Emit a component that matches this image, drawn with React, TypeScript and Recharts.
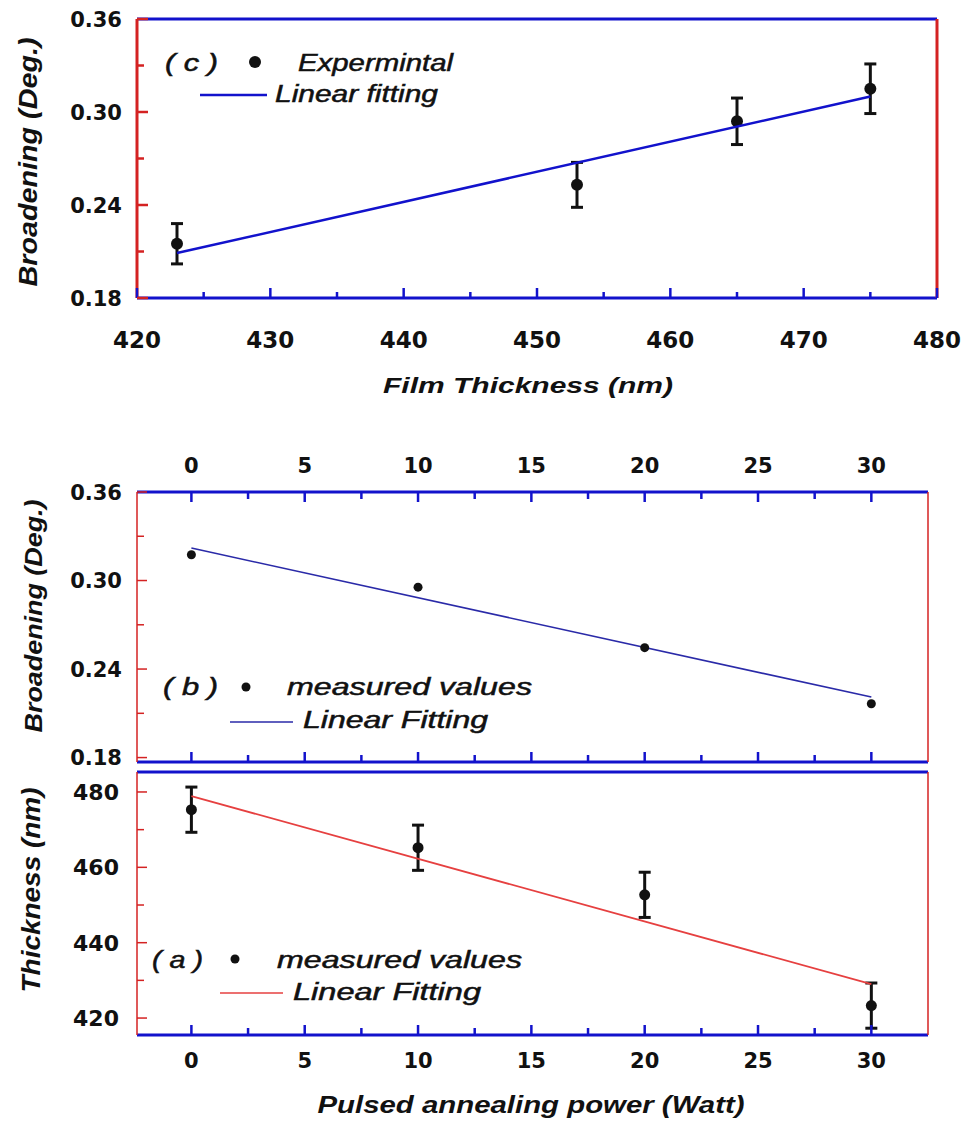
import React from 'react';
import { ScatterChart, Scatter, XAxis, YAxis, ErrorBar, Legend } from 'recharts';

const BLUE = '#1212cc';
const BLUE_B = '#2a2aa8';
const RED = '#d42222';
const RED_FIT = '#e64040';
const INK = '#111111';

// (c) broadening vs film thickness
const filmThickness = [423, 453, 465, 475];
const broadeningVsThickness = [0.215, 0.253, 0.294, 0.315];
const broadeningErr = [0.013, 0.0145, 0.015, 0.016];
const fitThicknessX = [423, 475];
const fitBroadeningC = [0.209, 0.31];

// (a), (b) vs pulsed annealing power
const power = [0, 10, 20, 30];
const broadeningVsPower = [0.3175, 0.2955, 0.2545, 0.2165];
const fitPowerX = [0, 30];
const fitBroadeningB = [0.322, 0.221];
const thicknessVsPower = [475.3, 465.2, 452.7, 423.3];
const thicknessErr = [6, 6, 6, 6];
const fitThicknessA = [478.9, 429.0];

// ticks
const ticksFilm = [420, 425, 430, 435, 440, 445, 450, 455, 460, 465, 470, 475, 480];
const majorFilm = [420, 430, 440, 450, 460, 470, 480];
const ticksBroad = [0.18, 0.21, 0.24, 0.27, 0.3, 0.33, 0.36];
const majorBroad = [0.18, 0.24, 0.3, 0.36];
const ticksPower = [0, 2.5, 5, 7.5, 10, 12.5, 15, 17.5, 20, 22.5, 25, 27.5, 30];
const majorPower = [0, 5, 10, 15, 20, 25, 30];
const ticksThick = [420, 430, 440, 450, 460, 470, 480];
const majorThick = [420, 440, 460, 480];

const pointsC = filmThickness.map((x, i) => ({ x, y: broadeningVsThickness[i], err: broadeningErr[i] }));
const fitC = fitThicknessX.map((x, i) => ({ x, y: fitBroadeningC[i] }));
const pointsB = power.map((x, i) => ({ x, y: broadeningVsPower[i] }));
const fitB = fitPowerX.map((x, i) => ({ x, y: fitBroadeningB[i] }));
const pointsA = power.map((x, i) => ({ x, y: thicknessVsPower[i], err: thicknessErr[i] }));
const fitA = fitPowerX.map((x, i) => ({ x, y: fitThicknessA[i] }));

const isIn = (v: number, list: number[]) => list.some((m) => Math.abs(m - v) < 1e-9);

interface TickSpec {
  side: 'left' | 'bottom' | 'top';
  color: string;
  majors: number[];
  majorLen: number;
  minorLen: number;
  fontSize: number;
  gap: number;
  digits: number;
  labels: boolean;
  strokeWidth: number;
}

// ticks drawn inward, label only on majors
function inwardTick(s: TickSpec) {
  return (props: any) => {
    const { x, y, payload } = props;
    const v = Number(payload.value);
    const major = isIn(v, s.majors);
    const len = major ? s.majorLen : s.minorLen;
    const label = s.labels && major ? v.toFixed(s.digits) : null;
    const font = { fontFamily: 'DejaVu Sans', fontWeight: 700, fontSize: s.fontSize, fill: INK };
    if (s.side === 'left') {
      return (
        <g>
          <line x1={x} y1={y} x2={x + len} y2={y} stroke={s.color} strokeWidth={s.strokeWidth} />
          {label && (
            <text x={x - s.gap} y={y} dy="0.36em" textAnchor="end" {...font}>
              {label}
            </text>
          )}
        </g>
      );
    }
    const dir = s.side === 'bottom' ? -1 : 1;
    return (
      <g>
        <line x1={x} y1={y} x2={x} y2={y + dir * len} stroke={s.color} strokeWidth={s.strokeWidth} />
        {label && (
          <text x={x} y={y - dir * s.gap} textAnchor="middle" {...font}>
            {label}
          </text>
        )}
      </g>
    );
  };
}

const titleFont = { fontFamily: 'Liberation Sans, Arial, sans-serif', fontWeight: 700, fontStyle: 'italic' as const, fill: INK };
const legendFont = {
  fontFamily: 'Liberation Sans, Arial, sans-serif',
  fontStyle: 'italic' as const,
  fontSize: 23,
  fill: INK,
  stroke: INK,
  strokeWidth: 0.5,
};

function xTitle(text: string, cx: number, base: number, len: number, size: number) {
  return () => (
    <text x={cx} y={base} textAnchor="middle" fontSize={size} textLength={len} lengthAdjust="spacingAndGlyphs" {...titleFont}>
      {text}
    </text>
  );
}

function yTitle(text: string, bx: number, cy: number, len: number, size: number) {
  return () => (
    <text
      x={bx}
      y={cy}
      transform={`rotate(-90 ${bx} ${cy})`}
      textAnchor="middle"
      fontSize={size}
      textLength={len}
      lengthAdjust="spacingAndGlyphs"
      {...titleFont}
    >
      {text}
    </text>
  );
}

const dot = (r: number) => (props: any) => <circle cx={props.cx} cy={props.cy} r={r} fill={INK} />;
const noDot = () => <g />;

interface LegendSpec {
  w: number;
  h: number;
  tag: string;
  tagX: number;
  tagLen: number;
  row1: number;
  dotX: number;
  dotY: number;
  dotR: number;
  name1: string;
  name1X: number;
  name1Len: number;
  lineX1: number;
  lineX2: number;
  lineY: number;
  lineColor: string;
  lineW: number;
  row2: number;
  name2: string;
  name2X: number;
  name2Len: number;
}

function legendBox(l: LegendSpec) {
  return () => (
    <svg width={l.w} height={l.h} style={{ overflow: 'visible' }}>
      <text x={l.tagX} y={l.row1} textLength={l.tagLen} lengthAdjust="spacingAndGlyphs" {...legendFont}>
        {l.tag}
      </text>
      <circle cx={l.dotX} cy={l.dotY} r={l.dotR} fill={INK} />
      <text x={l.name1X} y={l.row1} textLength={l.name1Len} lengthAdjust="spacingAndGlyphs" {...legendFont}>
        {l.name1}
      </text>
      <line x1={l.lineX1} x2={l.lineX2} y1={l.lineY} y2={l.lineY} stroke={l.lineColor} strokeWidth={l.lineW} />
      <text x={l.name2X} y={l.row2} textLength={l.name2Len} lengthAdjust="spacingAndGlyphs" {...legendFont}>
        {l.name2}
      </text>
    </svg>
  );
}

function PanelC() {
  return (
    <ScatterChart width={963} height={420} margin={{ top: 18, right: 25, bottom: 0, left: 0 }}>
      <XAxis
        xAxisId="b"
        type="number"
        dataKey="x"
        domain={[420, 480]}
        allowDataOverflow
        ticks={ticksFilm}
        interval={0}
        height={122}
        tickSize={0}
        tickMargin={0}
        tickLine={false}
        axisLine={{ stroke: BLUE, strokeWidth: 3 }}
        tick={inwardTick({ side: 'bottom', color: BLUE, majors: majorFilm, majorLen: 10, minorLen: 6, fontSize: 23, gap: 50, digits: 0, labels: true, strokeWidth: 2.5 })}
        label={{ content: xTitle('Film Thickness (nm)', 528, 393, 290, 22) }}
      />
      <XAxis xAxisId="t" orientation="top" type="number" domain={[420, 480]} height={1} tick={false} tickLine={false} axisLine={{ stroke: BLUE, strokeWidth: 3 }} />
      <YAxis
        yAxisId="l"
        type="number"
        dataKey="y"
        domain={[0.18, 0.36]}
        allowDataOverflow
        ticks={ticksBroad}
        interval={0}
        width={137}
        tickSize={0}
        tickMargin={0}
        tickLine={false}
        axisLine={{ stroke: RED, strokeWidth: 3 }}
        tick={inwardTick({ side: 'left', color: RED, majors: majorBroad, majorLen: 11, minorLen: 7, fontSize: 21, gap: 15, digits: 2, labels: true, strokeWidth: 2.5 })}
        label={{ content: yTitle('Broadening (Deg.)', 37, 162, 249, 26) }}
      />
      <YAxis yAxisId="r" orientation="right" type="number" domain={[0.18, 0.36]} width={1} tick={false} tickLine={false} axisLine={{ stroke: RED, strokeWidth: 3 }} />
      <Scatter xAxisId="b" yAxisId="l" data={pointsC} shape={dot(6)} isAnimationActive={false}>
        <ErrorBar dataKey="err" direction="y" width={6} stroke={INK} strokeWidth={3} isAnimationActive={false} />
      </Scatter>
      <Scatter xAxisId="b" yAxisId="l" data={fitC} shape={noDot} line={{ stroke: BLUE, strokeWidth: 2.5 }} isAnimationActive={false} />
      <Legend
        layout="horizontal"
        verticalAlign="middle"
        align="center"
        wrapperStyle={{ left: 0, top: 0, width: 963, height: 420, pointerEvents: 'none' }}
        content={legendBox({
          w: 963, h: 420, tag: '( c )', tagX: 165, tagLen: 53, row1: 71, dotX: 255, dotY: 62, dotR: 6,
          name1: 'Expermintal', name1X: 298, name1Len: 155, lineX1: 200, lineX2: 267, lineY: 95,
          lineColor: BLUE, lineW: 2.5, row2: 102, name2: 'Linear fitting', name2X: 275, name2Len: 163,
        })}
      />
    </ScatterChart>
  );
}

function PanelB() {
  return (
    <ScatterChart width={963} height={350} margin={{ top: 12, right: 34, bottom: 7, left: 0 }}>
      <XAxis
        xAxisId="t"
        orientation="top"
        type="number"
        dataKey="x"
        domain={[-2.4, 32.5]}
        allowDataOverflow
        ticks={ticksPower}
        interval={0}
        height={60}
        tickSize={0}
        tickMargin={0}
        tickLine={false}
        axisLine={{ stroke: BLUE, strokeWidth: 3 }}
        tick={inwardTick({ side: 'top', color: BLUE, majors: majorPower, majorLen: 10, minorLen: 7, fontSize: 21, gap: 19, digits: 0, labels: true, strokeWidth: 2.5 })}
      />
      <XAxis
        xAxisId="b"
        type="number"
        dataKey="x"
        domain={[-2.4, 32.5]}
        allowDataOverflow
        ticks={ticksPower}
        interval={0}
        height={1}
        tickSize={0}
        tickMargin={0}
        tickLine={false}
        axisLine={{ stroke: BLUE, strokeWidth: 3 }}
        tick={inwardTick({ side: 'bottom', color: BLUE, majors: majorPower, majorLen: 10, minorLen: 7, fontSize: 21, gap: 0, digits: 0, labels: false, strokeWidth: 2.5 })}
      />
      <YAxis
        yAxisId="l"
        type="number"
        dataKey="y"
        domain={[0.177, 0.36]}
        allowDataOverflow
        ticks={ticksBroad}
        interval={0}
        width={137}
        tickSize={0}
        tickMargin={0}
        tickLine={false}
        axisLine={{ stroke: RED, strokeWidth: 1.5 }}
        tick={inwardTick({ side: 'left', color: RED, majors: majorBroad, majorLen: 10, minorLen: 7, fontSize: 21, gap: 15, digits: 2, labels: true, strokeWidth: 1.5 })}
        label={{ content: yTitle('Broadening (Deg.)', 42, 196, 233, 24) }}
      />
      <YAxis yAxisId="r" orientation="right" type="number" domain={[0.177, 0.36]} width={1} tick={false} tickLine={false} axisLine={{ stroke: RED, strokeWidth: 1.5 }} />
      <Scatter xAxisId="b" yAxisId="l" data={fitB} shape={noDot} line={{ stroke: BLUE_B, strokeWidth: 1.6 }} isAnimationActive={false} />
      <Scatter xAxisId="b" yAxisId="l" data={pointsB} shape={dot(4.5)} isAnimationActive={false} />
      <Legend
        layout="horizontal"
        verticalAlign="middle"
        align="center"
        wrapperStyle={{ left: 0, top: 0, width: 963, height: 350, pointerEvents: 'none' }}
        content={legendBox({
          w: 963, h: 350, tag: '( b )', tagX: 163, tagLen: 55, row1: 275, dotX: 246, dotY: 267, dotR: 4.5,
          name1: 'measured values', name1X: 287, name1Len: 245, lineX1: 230, lineX2: 293, lineY: 302,
          lineColor: BLUE_B, lineW: 1.6, row2: 308, name2: 'Linear Fitting', name2X: 303, name2Len: 185,
        })}
      />
    </ScatterChart>
  );
}

function PanelA() {
  return (
    <ScatterChart width={963} height={357} margin={{ top: 6, right: 34, bottom: 0, left: 0 }}>
      <XAxis xAxisId="t" orientation="top" type="number" domain={[-2.4, 32.5]} height={1} tick={false} tickLine={false} axisLine={{ stroke: BLUE, strokeWidth: 3 }} />
      <XAxis
        xAxisId="b"
        type="number"
        dataKey="x"
        domain={[-2.4, 32.5]}
        allowDataOverflow
        ticks={ticksPower}
        interval={0}
        height={87}
        tickSize={0}
        tickMargin={0}
        tickLine={false}
        axisLine={{ stroke: BLUE, strokeWidth: 3 }}
        tick={inwardTick({ side: 'bottom', color: BLUE, majors: majorPower, majorLen: 10, minorLen: 7, fontSize: 21, gap: 33, digits: 0, labels: true, strokeWidth: 2.5 })}
        label={{ content: xTitle('Pulsed annealing power (Watt)', 531, 348, 427, 23) }}
      />
      <YAxis
        yAxisId="l"
        type="number"
        dataKey="y"
        domain={[415.5, 485.3]}
        allowDataOverflow
        ticks={ticksThick}
        interval={0}
        width={137}
        tickSize={0}
        tickMargin={0}
        tickLine={false}
        axisLine={{ stroke: RED, strokeWidth: 1.5 }}
        tick={inwardTick({ side: 'left', color: RED, majors: majorThick, majorLen: 10, minorLen: 7, fontSize: 22, gap: 18, digits: 0, labels: true, strokeWidth: 1.5 })}
        label={{ content: yTitle('Thickness (nm)', 40, 125, 205, 25) }}
      />
      <YAxis yAxisId="r" orientation="right" type="number" domain={[415.5, 485.3]} width={1} tick={false} tickLine={false} axisLine={{ stroke: RED, strokeWidth: 1.5 }} />
      <Scatter xAxisId="b" yAxisId="l" data={fitA} shape={noDot} line={{ stroke: RED_FIT, strokeWidth: 1.8 }} isAnimationActive={false} />
      <Scatter xAxisId="b" yAxisId="l" data={pointsA} shape={dot(5.5)} isAnimationActive={false}>
        <ErrorBar dataKey="err" direction="y" width={6} stroke={INK} strokeWidth={3} isAnimationActive={false} />
      </Scatter>
      <Legend
        layout="horizontal"
        verticalAlign="middle"
        align="center"
        wrapperStyle={{ left: 0, top: 0, width: 963, height: 357, pointerEvents: 'none' }}
        content={legendBox({
          w: 963, h: 357, tag: '( a )', tagX: 152, tagLen: 51, row1: 203, dotX: 235, dotY: 194, dotR: 4.5,
          name1: 'measured values', name1X: 277, name1Len: 245, lineX1: 220, lineX2: 283, lineY: 228,
          lineColor: RED_FIT, lineW: 1.6, row2: 235, name2: 'Linear Fitting', name2X: 293, name2Len: 188,
        })}
      />
    </ScatterChart>
  );
}

export default function App() {
  return (
    <div style={{ position: 'absolute', left: 0, top: 0, width: 963, height: 1122, background: '#fff' }}>
      <div style={{ position: 'absolute', left: 0, top: 0 }}>
        <PanelC />
      </div>
      <div style={{ position: 'absolute', left: 0, top: 420 }}>
        <PanelB />
      </div>
      <div style={{ position: 'absolute', left: 0, top: 765 }}>
        <PanelA />
      </div>
    </div>
  );
}
